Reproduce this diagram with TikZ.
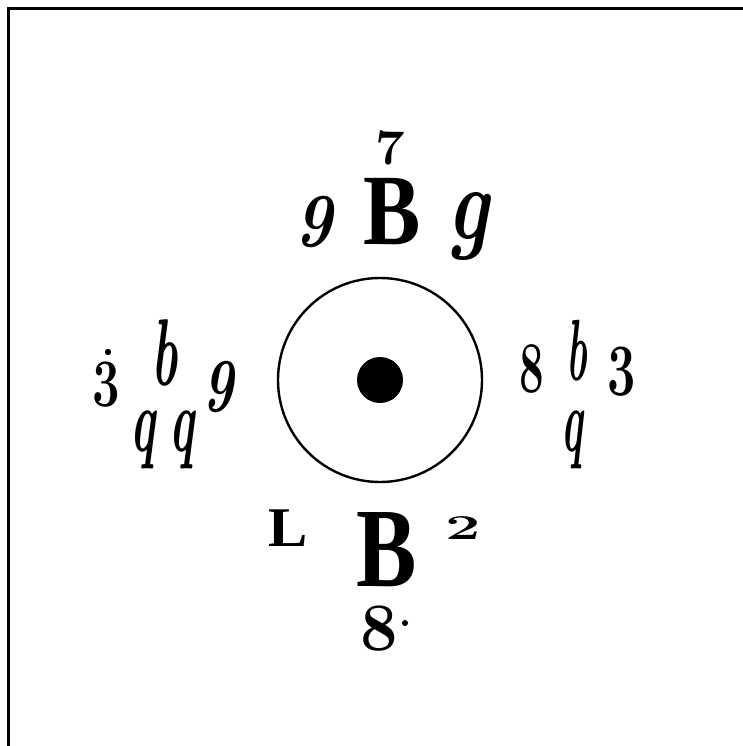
\documentclass[tikz,border=0pt]{standalone}
\usepackage{fontspec}
\newfontfamily\bfam{Liberation Serif}
\begin{document}
\begin{tikzpicture}[x=1pt,y=-1pt,
  glyph/.style={inner sep=0pt, outer sep=0pt, anchor=center},
  fsz/.style={font=\fontsize{#1}{#1}\selectfont\bfseries},
  ifsz/.style={font=\fontsize{#1}{#1}\selectfont\bfseries\itshape},
  bfsz/.style={font=\fontsize{#1}{#1}\selectfont\bfam\bfseries}]
\useasboundingbox (0,0) rectangle (743,746);
% frame (left and top edges visible)
\draw[line width=3.5pt] (8.5,760) -- (8.5,8.5) -- (760,8.5);
% circle and centre dot
\node[circle, draw, line width=2.4pt, minimum size=204pt, inner sep=0pt] (ring) at (380,380) {};
\node[circle, fill, minimum size=46pt, inner sep=0pt] (hub) at (380,380) {};
% top group
\node[glyph, fsz=50, xscale=1.05] (t7) at (390,148) {7};
\node[glyph, bfsz=101, xscale=0.85] (tB) at (392,212) {B};
\node[glyph, ifsz=76, xscale=0.85] (t9) at (314,222) {9};
\node[glyph, ifsz=104, xscale=0.75] (tg) at (468,226) {g};
% left group
\node[glyph, fsz=68, xscale=0.72] (l3) at (106,385) {3};
\fill (108,352) circle (3.2pt);
\node[glyph, ifsz=95, xscale=0.52] (lb) at (165,353) {b};
\node[glyph, ifsz=76, xscale=0.7] (l9) at (218,387) {9};
\node[glyph, ifsz=90, xscale=0.52] (lq1) at (143,440) {q};
\node[glyph, ifsz=90, xscale=0.52] (lq2) at (182,440) {q};
% right group
\node[glyph, fsz=73, xscale=0.6] (r8) at (532,369) {8};
\node[glyph, ifsz=87, xscale=0.45] (rb) at (577,351) {b};
\node[glyph, fsz=74, xscale=0.68] (r3) at (622,372) {3};
\node[glyph, ifsz=90, xscale=0.45] (rq) at (572,440) {q};
% bottom group
\node[glyph, bfsz=56, xscale=1.05] (bL) at (288,528) {L};
\node[glyph, bfsz=113, xscale=0.8] (bB) at (387,550) {B};
\node[glyph, fsz=35, xscale=1.8] (b2) at (463,528) {2};
\node[glyph, fsz=68, xscale=0.98] (b8) at (379,629) {8};
\fill (405,623) circle (3pt);
\end{tikzpicture}
\end{document}
